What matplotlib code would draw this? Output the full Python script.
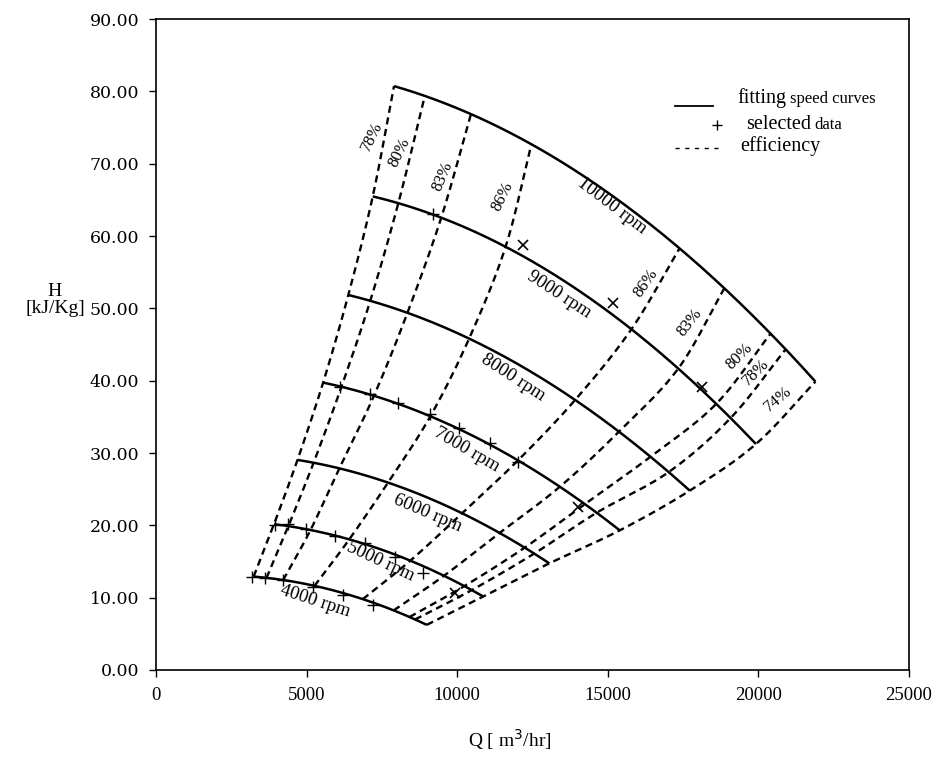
import numpy as np
import matplotlib
matplotlib.use("Agg")
import matplotlib.pyplot as plt
from matplotlib.ticker import FixedLocator, FuncFormatter

# ---------------- data ----------------
speeds = [4000, 5000, 6000, 7000, 8000, 9000, 10000]
# crossing order along each speed curve (left boundary -> right boundary)
eff_names = ['78%', '80%', '83%', '86%', '86%', '83%', '80%', '78%', '74%']

Q_4000 = [3177, 3619, 4226, 5222, 6773, 7825, 8377, 8543, 8821]
H_4000 = [12.90, 12.82, 12.44, 11.66, 9.91, 8.30, 7.47, 7.19, 6.46]
Q_5000 = [3951, 4449, 5003, 6384, 8466, 9539, 10203, 10425, 10980]
H_5000 = [20.05, 19.91, 19.59, 17.97, 15.21, 12.90, 11.75, 11.16, 9.91]
Q_6000 = [4781, 5279, 6331, 7825, 10315, 11531, 12307, 12693, 13191]
H_6000 = [28.94, 28.66, 27.65, 25.72, 21.43, 18.43, 16.83, 15.90, 14.28]
Q_7000 = [5554, 6109, 7105, 9097, 12029, 13469, 14343, 14774, 15462]
H_7000 = [39.64, 39.13, 38.16, 35.39, 28.80, 25.12, 22.40, 21.15, 19.45]
Q_8000 = [6331, 7105, 8377, 10425, 13855, 15349, 16401, 16899, 17620]
H_8000 = [51.61, 51.15, 49.54, 46.00, 37.33, 32.73, 29.27, 28.11, 25.34]
Q_9000 = [7161, 8045, 9429, 11477, 15681, 17175, 18426, 18948, 19778]
H_9000 = [65.35, 64.52, 62.77, 58.99, 47.24, 42.17, 37.44, 35.37, 32.03]
Q_10000 = [7935, 8931, 10481, 12527, 17454, 18958, 20495, 20993, 21989]
H_10000 = [80.42, 79.50, 76.73, 73.04, 57.83, 52.19, 45.97, 43.79, 39.86]

# selected data
plus_Q = [9206, 6109, 7105, 8045, 9097, 10070, 11089, 12029,
          3951, 4392, 4980, 5943, 6939, 7935, 8875,
          3177, 3619, 4226, 5222, 6218, 7215]
plus_H = [63.04, 39.13, 38.16, 36.96, 35.39, 33.42, 31.43, 28.80,
          20.05, 20.14, 19.49, 18.57, 17.52, 15.66, 13.37,
          12.90, 12.68, 12.44, 11.52, 10.37, 8.99]
x_Q = [12195, 15183, 18117, 14021, 9927]
x_H = [58.76, 50.78, 39.17, 22.58, 10.60]

x_ticks = [0, 5000, 10000, 15000, 20000, 25000]
y_ticks = [0, 10, 20, 30, 40, 50, 60, 70, 80, 90]

Q_all = [Q_4000, Q_5000, Q_6000, Q_7000, Q_8000, Q_9000, Q_10000]
H_all = [H_4000, H_5000, H_6000, H_7000, H_8000, H_9000, H_10000]

# ---------------- helpers ----------------
def catmull(xs, ys, n=24):
    P = np.column_stack([xs, ys]).astype(float)
    ext = np.vstack([2 * P[0] - P[1], P, 2 * P[-1] - P[-2]])
    out = []
    t = np.linspace(0, 1, n, endpoint=False)[:, None]
    for i in range(1, len(ext) - 2):
        p0, p1, p2, p3 = ext[i - 1:i + 3]
        seg = 0.5 * ((2 * p1) + (-p0 + p2) * t
                     + (2 * p0 - 5 * p1 + 4 * p2 - p3) * t ** 2
                     + (-p0 + 3 * p1 - 3 * p2 + p3) * t ** 3)
        out.append(seg)
    out.append(P[-1:])
    c = np.vstack(out)
    return c[:, 0], c[:, 1]

SERIF = ['Liberation Serif', 'DejaVu Serif']

fig = plt.figure(figsize=(9.41, 7.58), dpi=100)
ax = fig.add_axes([156 / 941, 1 - 670 / 758, (909 - 156) / 941, (670 - 19) / 758])

# --- smoothing of the read crossings (fitting) ---
Qn = np.array(Q_all, float) / 1000.0          # shape (speeds, crossings)
Hn = np.array(H_all, float)
coefs = [np.polyfit(Qn[i], Hn[i], 2) for i in range(len(speeds))]
for j in range(Qn.shape[1]):
    c = np.polyfit(Hn[:, j], Qn[:, j], 2)
    Qn[:, j] = np.polyval(c, Hn[:, j])
for i in range(len(speeds)):
    Hn[i] = np.polyval(coefs[i], Qn[i])

# speed curves
for i in range(len(speeds)):
    qq = np.linspace(Qn[i, 0], Qn[i, -1], 200)
    ax.plot(qq * 1000, np.polyval(coefs[i], qq), color='black', lw=1.8, solid_capstyle='butt')

# efficiency lines
for j in range(len(eff_names)):
    cx, cy = catmull(Qn[:, j] * 1000, Hn[:, j])
    ax.plot(cx, cy, color='black', lw=1.7, dashes=(3.0, 2.0))

# selected data
ax.plot(plus_Q, plus_H, linestyle='none', marker='+', color='black', ms=8, mew=1.0)
ax.plot(x_Q, x_H, linestyle='none', marker='x', color='black', ms=7, mew=1.2)

# speed labels
spd_lab = [(5279, 9.5, -18), (7437, 15.0, -25), (9031, 21.6, -23), (10325, 30.4, -30),
           (11853, 40.4, -33), (13380, 51.9, -33), (15139, 64.2, -37)]
for s, (q, h, r) in zip(speeds, spd_lab):
    ax.text(q, h, f'{s} rpm', rotation=r, rotation_mode='anchor', ha='center', va='center',
            fontsize=13.5, family=SERIF)

# efficiency labels
eff_lab = [(7171, 73.7, 64), (8068, 71.6, 64), (9529, 68.2, 67), (11521, 65.5, 64),
           (16268, 53.5, 55), (17729, 48.0, 52), (19356, 43.4, 45), (19920, 41.2, 45),
           (20651, 37.5, 40)]
for name, (q, h, r) in zip(eff_names, eff_lab):
    ax.text(q, h, name, rotation=r, rotation_mode='anchor', ha='center', va='center',
            fontsize=12, family=SERIF)

# axes styling
ax.set_xlim(0, 25000)
ax.set_ylim(0, 90)
ax.xaxis.set_major_locator(FixedLocator(x_ticks))
ax.yaxis.set_major_locator(FixedLocator(y_ticks))
ax.xaxis.set_major_formatter(FuncFormatter(lambda v, p: f'{int(v)}'))
ax.yaxis.set_major_formatter(FuncFormatter(lambda v, p: f'{v:.2f}'))
ax.tick_params(direction='out', length=5, width=1, pad=7)
for lab in ax.get_xticklabels():
    lab.set_family(SERIF)
    lab.set_fontsize(13.5)
for lab in ax.get_yticklabels():
    lab.set_family(['DejaVu Serif'])
    lab.set_fontsize(12.5)
for sp in ax.spines.values():
    sp.set_linewidth(1.2)

# axis titles
fig.text(55 / 941, 1 - 300 / 758, 'H\n[kJ/Kg]', ha='center', va='center',
         fontsize=14, family=SERIF, linespacing=1.05)
fig.text(510 / 941, 1 - 740 / 758, 'Q [ m$^3$/hr]', ha='center', va='center',
         fontsize=14, family=SERIF)

# legend (hand-built)
T = ax.transAxes
def ax_xy(px, py):
    return ((px - 156) / (909 - 156), (670 - py) / (670 - 19))
x0, y0 = ax_xy(675, 106); x1, _ = ax_xy(713, 106)
ax.plot([x0, x1], [y0, y0], transform=T, color='black', lw=1.3)
mx, my = ax_xy(717, 125)
ax.plot([mx], [my], transform=T, marker='+', color='black', ms=7, mew=1.0, linestyle='none')
d0, dy0 = ax_xy(675, 148); d1, _ = ax_xy(722, 148)
ax.plot([d0, d1], [dy0, dy0], transform=T, color='black', lw=1.0, dashes=(3, 4))

tx, ty = ax_xy(737, 103)
t1 = ax.text(tx, ty, 'fitting', transform=T, ha='left', va='baseline', fontsize=14.5, family=SERIF)
sx, sy = ax_xy(746, 129)
t2 = ax.text(sx, sy, 'selected', transform=T, ha='left', va='baseline', fontsize=14.5, family=SERIF)
ex, ey = ax_xy(740, 151)
ax.text(ex, ey, 'efficiency', transform=T, ha='left', va='baseline', fontsize=14.5, family=SERIF)
fig.canvas.draw()
r = fig.canvas.get_renderer()
for big, small, gap in [(t1, 'speed curves', 4), (t2, 'data', 3)]:
    bb = big.get_window_extent(r)
    xa, _ = T.inverted().transform((bb.x1 + gap, 0))
    ax.text(xa, big.get_position()[1], small, transform=T, ha='left', va='baseline',
            fontsize=12, family=SERIF)

fig.savefig('out.png', dpi=100)
